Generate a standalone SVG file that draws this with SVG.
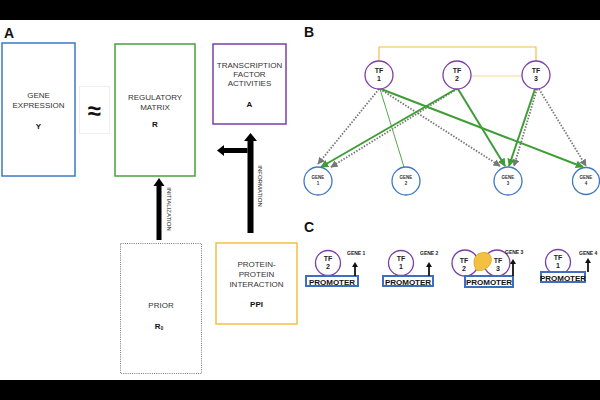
<svg xmlns="http://www.w3.org/2000/svg" width="600" height="400" viewBox="0 0 600 400">
<style>
text{font-family:"Liberation Sans",Arial,sans-serif;fill:#333}
.lbl{font-size:8px;text-anchor:middle}
.b{font-weight:bold;fill:#111}
.panel{font-size:14px;font-weight:bold;fill:#111}
.tf{fill:#fff;stroke:#7b3fa6;stroke-width:1.3}
.gene{fill:#fff;stroke:#3d78c4;stroke-width:1.3}
.tft{font-size:7px;font-weight:bold;text-anchor:middle;fill:#222}
.gt{font-size:4.5px;font-weight:bold;text-anchor:middle;fill:#333}
.g{stroke:#3f9d35;stroke-width:2;fill:none}
.gth{stroke:#55aa4a;stroke-width:1;fill:none}
.d{stroke:#777;stroke-width:1.8;stroke-dasharray:1.5 1.5;fill:none}
.prom{fill:#fff;stroke:#3d6fc0;stroke-width:2}
.pt{font-size:8px;font-weight:bold;text-anchor:middle;fill:#111}
.gl{font-size:5px;font-weight:bold;fill:#222}
</style>
<defs>
<marker id="ag" viewBox="0 0 10 10" refX="9" refY="5" markerWidth="4" markerHeight="4" orient="auto" markerUnits="strokeWidth"><path d="M0,0 L10,5 L0,10 z" fill="#3f9d35"/></marker>
<marker id="ad" viewBox="0 0 10 10" refX="9" refY="5" markerWidth="4" markerHeight="4" orient="auto" markerUnits="strokeWidth"><path d="M0,0 L10,5 L0,10 z" fill="#777"/></marker>
</defs>
<rect x="0" y="0" width="600" height="400" fill="#fff"/>
<rect x="0" y="0" width="600" height="20" fill="#000"/>
<rect x="0" y="380" width="600" height="20" fill="#000"/>

<!-- Panel A -->
<text class="panel" x="4" y="38">A</text>
<g id="gene-expression">
<rect x="2" y="43" width="73" height="133" fill="#fff" stroke="#3d78c4" stroke-width="1.5"/>
<text class="lbl" x="38.5" y="98">GENE</text>
<text class="lbl" x="38.5" y="108">EXPRESSION</text>
<text class="lbl b" x="38.5" y="129">Y</text>
</g>
<g id="approx">
<rect x="79.5" y="86.5" width="30" height="47" fill="#fff" stroke="#eee" stroke-width="1"/>
<text x="94" y="119" font-size="24" font-weight="bold" text-anchor="middle" style="fill:#111">≈</text>
</g>
<g id="regulatory-matrix">
<rect x="115" y="44" width="80" height="132" fill="#fff" stroke="#4aa040" stroke-width="1.5"/>
<text class="lbl" x="155" y="100">REGULATORY</text>
<text class="lbl" x="155" y="110">MATRIX</text>
<text class="lbl b" x="155" y="127">R</text>
</g>
<g id="tf-activities">
<rect x="213" y="44" width="73" height="80" fill="#fff" stroke="#7b3fa6" stroke-width="1.5"/>
<text class="lbl" x="249.5" y="68" font-size="7">TRANSCRIPTION</text>
<text class="lbl" x="249.5" y="77" font-size="7">FACTOR</text>
<text class="lbl" x="249.5" y="86" font-size="7">ACTIVITIES</text>
<text class="lbl b" x="249.5" y="107" font-size="7.5">A</text>
</g>
<g id="prior">
<rect x="120.5" y="243.5" width="81" height="130" fill="#fff" stroke="#777" stroke-width="1" stroke-dasharray="1 1.2"/>
<text class="lbl" x="161" y="308">PRIOR</text>
<text class="lbl b" x="159" y="329">R<tspan font-size="4.5" dy="1">0</tspan></text>
</g>
<g id="ppi">
<rect x="216" y="243" width="81" height="81" fill="#fff" stroke="#f2c043" stroke-width="1.5"/>
<text class="lbl" x="256.5" y="267">PROTEIN-</text>
<text class="lbl" x="256.5" y="277">PROTEIN</text>
<text class="lbl" x="256.5" y="287">INTERACTION</text>
<text class="lbl b" x="256.5" y="307">PPI</text>
</g>
<g id="connectors-a" fill="#000">
<polygon points="156.5,240 156.5,186 153.5,186 159,178 164.5,186 161.5,186 161.5,240"/>
<polygon points="247.5,233 247.5,141 244,141 250.5,133 257,141 253.5,141 253.5,233"/>
<polygon points="247.5,148 224,148 224,145 217,150.5 224,156 224,153 247.5,153"/>
<text transform="translate(167,209) rotate(90)" font-size="6" text-anchor="middle" style="fill:#222">INITIALIZATION</text>
<text transform="translate(258,186) rotate(90)" font-size="6" text-anchor="middle" style="fill:#222">INFORMATION</text>
</g>

<!-- Panel B -->
<text class="panel" x="304" y="37">B</text>
<g id="connectors-b">
<path d="M379,61 V47 H536 V61" stroke="#f2c043" stroke-width="1.2" fill="none"/>
<path d="M471,76 H522" stroke="#f7dc95" stroke-width="1.2" fill="none"/>
<path class="d" d="M379,89 L318,164" marker-end="url(#ad)"/>
<path class="d" d="M380,89 L500,166" marker-end="url(#ad)"/>
<path class="d" d="M457,89 L331,167" marker-end="url(#ad)"/>
<path class="d" d="M537,89 L514,166" marker-end="url(#ad)"/>
<path class="d" d="M539,89 L586,166" marker-end="url(#ad)"/>
<path class="gth" d="M380,89 L404,167"/>
<path class="g" d="M381,89 L583,167" marker-end="url(#ag)"/>
<path class="g" d="M456,89 L321,167" marker-end="url(#ag)"/>
<path class="g" d="M458,89 L505,166" marker-end="url(#ag)"/>
<path class="g" d="M535,89 L509,166" marker-end="url(#ag)"/>
</g>
<g id="tf1"><circle class="tf" cx="379" cy="75" r="14"/><text class="tft" x="379" y="73">TF</text><text class="tft" x="379" y="81">1</text></g>
<g id="tf2"><circle class="tf" cx="457" cy="75" r="14"/><text class="tft" x="457" y="73">TF</text><text class="tft" x="457" y="81">2</text></g>
<g id="tf3"><circle class="tf" cx="536" cy="75" r="14"/><text class="tft" x="536" y="73">TF</text><text class="tft" x="536" y="81">3</text></g>
<g id="gene1"><circle class="gene" cx="318" cy="181" r="14"/><text class="gt" x="318" y="179">GENE</text><text class="gt" x="318" y="185">1</text></g>
<g id="gene2"><circle class="gene" cx="406" cy="181" r="14"/><text class="gt" x="406" y="179">GENE</text><text class="gt" x="406" y="185">2</text></g>
<g id="gene3"><circle class="gene" cx="508" cy="181" r="14"/><text class="gt" x="508" y="179">GENE</text><text class="gt" x="508" y="185">3</text></g>
<g id="gene4"><circle class="gene" cx="586" cy="181" r="13.5"/><text class="gt" x="586" y="179">GENE</text><text class="gt" x="586" y="185">4</text></g>

<!-- Panel C -->
<text class="panel" x="304" y="232">C</text>
<g id="c-gene1">
<circle class="tf" cx="328" cy="263" r="12.5"/>
<text class="tft" x="328" y="261">TF</text><text class="tft" x="328" y="269">2</text>
<rect class="prom" x="306" y="276" width="52" height="10"/>
<text class="pt" x="332" y="284.5">PROMOTER</text>
<path d="M355,276 V266" stroke="#111" stroke-width="1.8"/><path d="M352,267 L355,262 L358,267 z" fill="#111"/>
<text class="gl" x="347" y="255">GENE 1</text>
</g>
<g id="c-gene2">
<circle class="tf" cx="401" cy="263" r="12.5"/>
<text class="tft" x="401" y="261">TF</text><text class="tft" x="401" y="269">1</text>
<rect class="prom" x="383" y="276" width="50" height="10"/>
<text class="pt" x="408" y="284.5">PROMOTER</text>
<path d="M429,276 V266" stroke="#111" stroke-width="1.8"/><path d="M426,267 L429,262 L432,267 z" fill="#111"/>
<text class="gl" x="420" y="255">GENE 2</text>
</g>
<g id="c-gene3">
<circle class="tf" cx="465" cy="263" r="13"/>
<circle class="tf" cx="497" cy="263" r="13"/>
<path d="M478,254 C486,250 493,254 491,262 C489,269 481,272 476,270 C474,266 472,258 478,254 z" fill="#f2c043" stroke="#d9a520" stroke-width="0.8"/>
<text class="tft" x="464" y="263">TF</text><text class="tft" x="464" y="271">2</text>
<text class="tft" x="498" y="263">TF</text><text class="tft" x="498" y="271">3</text>
<rect class="prom" x="465" y="276" width="48" height="11"/>
<text class="pt" x="489" y="285">PROMOTER</text>
<path d="M513,276 V263" stroke="#111" stroke-width="1.8"/><path d="M510,264 L513,259 L516,264 z" fill="#111"/>
<text class="gl" x="505" y="254">GENE 3</text>
</g>
<g id="c-gene4">
<circle class="tf" cx="558" cy="262" r="12.5"/>
<text class="tft" x="558" y="260">TF</text><text class="tft" x="558" y="268">1</text>
<rect class="prom" x="541" y="272" width="44" height="10"/>
<text class="pt" x="563" y="280.5" font-size="7.5">PROMOTER</text>
<path d="M588,272 V262" stroke="#111" stroke-width="1.8"/><path d="M585,263 L588,258 L591,263 z" fill="#111"/>
<text class="gl" x="579" y="255">GENE 4</text>
</g>
</svg>
